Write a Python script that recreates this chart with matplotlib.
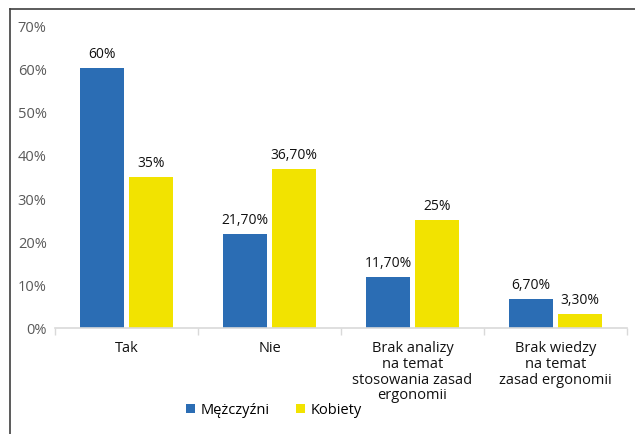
import numpy as np
import matplotlib
matplotlib.use("Agg")
from matplotlib import pyplot as plt
from matplotlib.lines import Line2D

categories = ["Tak", "Nie", "Brak analizy\nna temat\nstosowania zasad\nergonomii",
              "Brak wiedzy\nna temat\nzasad ergonomii"]
men = [60, 21.7, 11.7, 6.7]
women = [35, 36.7, 25, 3.3]
men_labels = ["60%", "21,70%", "11,70%", "6,70%"]
women_labels = ["35%", "36,70%", "25%", "3,30%"]
yticks = [0, 10, 20, 30, 40, 50, 60, 70]

plt.rcParams['font.family'] = ['Open Sans', 'DejaVu Sans']

blue = "#2b6db4"
yellow = "#f2e300"

fig = plt.figure(figsize=(6.35, 4.35), dpi=100)
ax = fig.add_axes([55/635, 1 - 329/435, 572/635, 303/435])

x = np.arange(len(categories))
w = 0.31
b1 = ax.bar(x - w/2 - 0.015, men, w, color=blue, label="Mężczyźni")
b2 = ax.bar(x + w/2 + 0.015, women, w, color=yellow, label="Kobiety")
ax.bar_label(b1, labels=men_labels, padding=5, fontsize=10, color="#111111")
ax.bar_label(b2, labels=women_labels, padding=5, fontsize=10, color="#111111")

ax.set_xlim(-0.5, len(categories) - 0.5)
ax.set_ylim(0, 70)
ax.set_yticks(yticks)
ax.set_yticklabels([f"{t}%" for t in yticks], color="#595959", fontsize=10.5)
ax.tick_params(axis='y', length=0, pad=6)

ax.set_xticks(x)
ax.set_xticklabels(categories, fontsize=10.5, color="#111111", linespacing=1.05)
ax.tick_params(axis='x', length=0, pad=9)
ax.set_xticks(np.arange(len(categories) + 1) - 0.5, minor=True)
ax.tick_params(axis='x', which='minor', length=5, color="#d9d9d9", width=1)

for s in ["top", "right", "left"]:
    ax.spines[s].set_visible(False)
ax.spines["bottom"].set_color("#d9d9d9")
ax.spines["bottom"].set_linewidth(1.2)

fig.legend(handles=[b1, b2], loc="center", bbox_to_anchor=(274/635, 1 - 411/435),
           ncol=2, frameon=False, fontsize=10.5, handlelength=0.6, handleheight=0.6,
           handletextpad=0.4, columnspacing=1.8)

# outer border lines (top and left)
fig.add_artist(Line2D([10/635, 1], [1 - 10/435] * 2, color="#404040", lw=1.2))
fig.add_artist(Line2D([10/635, 10/635], [0, 1 - 10/435], color="#404040", lw=1.2))

fig.savefig("out.png", dpi=100)
